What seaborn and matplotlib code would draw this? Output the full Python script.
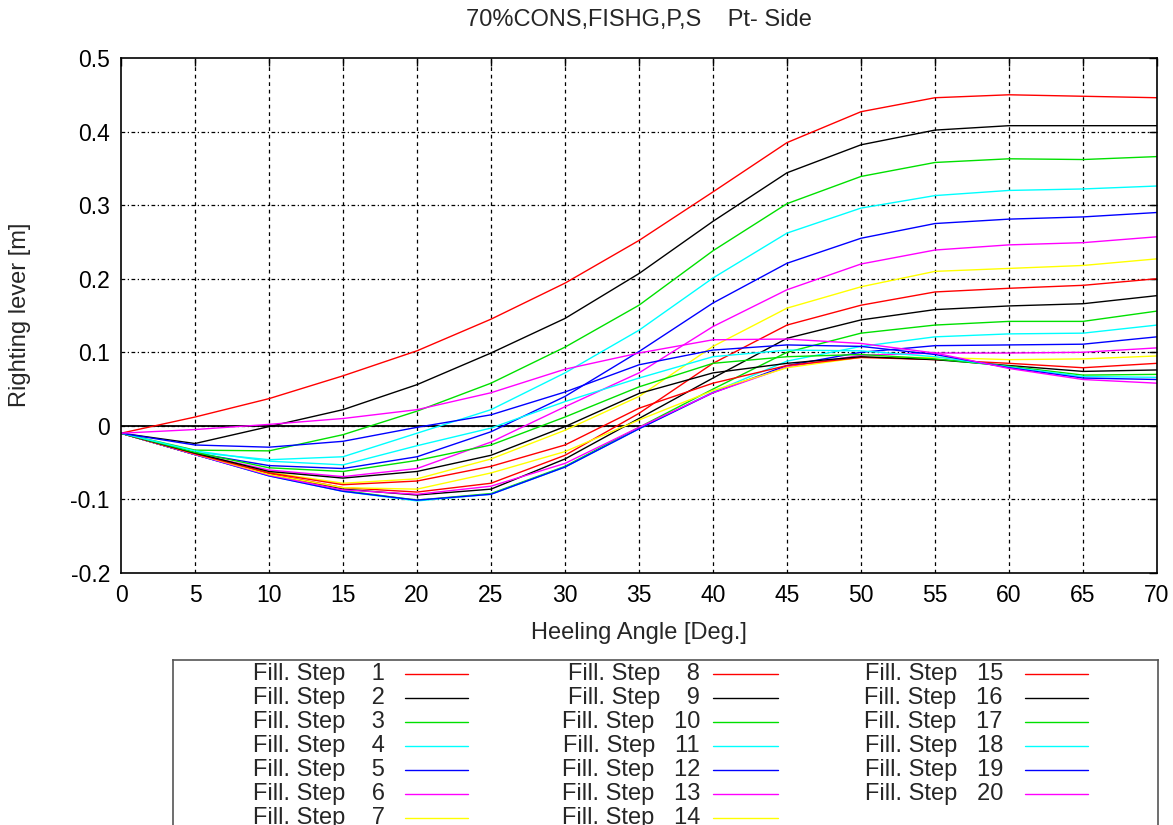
import numpy as np
import pandas as pd
import matplotlib
matplotlib.use("Agg")
import matplotlib.pyplot as plt
import seaborn as sns

# ---------------- data ----------------
angles = [0, 5, 10, 15, 20, 25, 30, 35, 40, 45, 50, 55, 60, 65, 70]

step_1 = [-0.010, 0.012, 0.037, 0.068, 0.102, 0.145, 0.194, 0.252, 0.318, 0.385, 0.427, 0.446, 0.450, 0.448, 0.446]
step_2 = [-0.010, -0.024, -0.001, 0.022, 0.056, 0.099, 0.146, 0.207, 0.278, 0.344, 0.382, 0.402, 0.408, 0.408, 0.408]
step_3 = [-0.010, -0.033, -0.034, -0.012, 0.020, 0.058, 0.107, 0.164, 0.238, 0.302, 0.339, 0.358, 0.363, 0.362, 0.366]
step_4 = [-0.010, -0.036, -0.046, -0.042, -0.010, 0.022, 0.072, 0.130, 0.201, 0.262, 0.296, 0.313, 0.320, 0.322, 0.326]
step_5 = [-0.010, -0.037, -0.054, -0.058, -0.042, -0.008, 0.040, 0.101, 0.167, 0.221, 0.255, 0.275, 0.281, 0.284, 0.290]
step_6 = [-0.010, -0.038, -0.060, -0.069, -0.058, -0.022, 0.026, 0.072, 0.135, 0.185, 0.220, 0.239, 0.246, 0.249, 0.257]
step_7 = [-0.010, -0.038, -0.063, -0.078, -0.072, -0.045, -0.006, 0.040, 0.108, 0.160, 0.189, 0.210, 0.214, 0.218, 0.227]
step_8 = [-0.010, -0.039, -0.065, -0.084, -0.090, -0.078, -0.040, 0.017, 0.085, 0.137, 0.164, 0.182, 0.187, 0.191, 0.200]
step_9 = [-0.010, -0.039, -0.066, -0.086, -0.094, -0.086, -0.045, 0.010, 0.065, 0.119, 0.144, 0.158, 0.163, 0.166, 0.177]
step_10 = [-0.010, -0.039, -0.067, -0.088, -0.101, -0.092, -0.055, -0.002, 0.050, 0.100, 0.126, 0.137, 0.142, 0.142, 0.156]
step_11 = [-0.010, -0.039, -0.068, -0.089, -0.102, -0.093, -0.056, -0.004, 0.046, 0.088, 0.108, 0.121, 0.125, 0.126, 0.137]
step_12 = [-0.010, -0.039, -0.068, -0.089, -0.101, -0.093, -0.056, -0.004, 0.045, 0.082, 0.100, 0.109, 0.110, 0.111, 0.121]
step_13 = [-0.010, -0.039, -0.067, -0.087, -0.093, -0.082, -0.051, -0.002, 0.045, 0.080, 0.096, 0.099, 0.099, 0.100, 0.106]
step_14 = [-0.010, -0.038, -0.066, -0.084, -0.086, -0.064, -0.035, 0.008, 0.048, 0.079, 0.093, 0.093, 0.090, 0.091, 0.095]
step_15 = [-0.010, -0.038, -0.064, -0.080, -0.075, -0.055, -0.026, 0.024, 0.058, 0.082, 0.093, 0.090, 0.085, 0.079, 0.085]
step_16 = [-0.010, -0.037, -0.062, -0.071, -0.062, -0.040, -0.001, 0.044, 0.072, 0.085, 0.094, 0.090, 0.082, 0.074, 0.076]
step_17 = [-0.010, -0.036, -0.057, -0.062, -0.047, -0.026, 0.012, 0.053, 0.085, 0.094, 0.097, 0.091, 0.081, 0.069, 0.070]
step_18 = [-0.010, -0.034, -0.048, -0.053, -0.027, -0.003, 0.033, 0.065, 0.094, 0.103, 0.102, 0.094, 0.080, 0.067, 0.066]
step_19 = [-0.010, -0.026, -0.029, -0.021, -0.002, 0.015, 0.046, 0.083, 0.103, 0.110, 0.108, 0.097, 0.079, 0.065, 0.063]
step_20 = [-0.010, -0.005, 0.002, 0.010, 0.022, 0.045, 0.077, 0.099, 0.117, 0.118, 0.112, 0.099, 0.078, 0.063, 0.058]

steps = [step_1, step_2, step_3, step_4, step_5, step_6, step_7, step_8, step_9, step_10,
         step_11, step_12, step_13, step_14, step_15, step_16, step_17, step_18, step_19, step_20]
step_labels = [str(i) for i in range(1, 21)]

color_cycle = ["#ff0000", "#000000", "#00e000", "#00ffff", "#0000ff", "#ff00ff", "#ffff00"]

x_ticks = [0, 5, 10, 15, 20, 25, 30, 35, 40, 45, 50, 55, 60, 65, 70]
y_ticks = [-0.2, -0.1, 0.0, 0.1, 0.2, 0.3, 0.4, 0.5]
y_tick_labels = ["-0.2", "-0.1", "0", "0.1", "0.2", "0.3", "0.4", "0.5"]

title = "70%CONS,FISHG,P,S    Pt- Side"
x_label = "Heeling Angle [Deg.]"
y_label = "Righting lever [m]"

# ---------------- plot ----------------
sns.set_theme(style="white")
plt.rcParams["font.family"] = ["Liberation Sans", "DejaVu Sans"]

FS = 17
W, H = 1173, 825
fig = plt.figure(figsize=(W / 100, H / 100), dpi=100)
fig.patch.set_facecolor("white")

L, R, T, B = 121, 1157, 58, 573
ax = fig.add_axes([L / W, 1 - B / H, (R - L) / W, (B - T) / H])
ax.set_facecolor("white")

rows = []
for lab, vals in zip(step_labels, steps):
    for a, v in zip(angles, vals):
        rows.append({"angle": a, "gz": v, "step": lab})
df = pd.DataFrame(rows)
palette = [color_cycle[i % 7] for i in range(20)]

ax.axhline(0, color="black", lw=1.3, zorder=1)
sns.lineplot(data=df, x="angle", y="gz", hue="step", palette=palette,
             legend=False, lw=1.0, ax=ax, zorder=3, estimator=None, sort=False)

ax.set_xlim(0, 70)
ax.set_ylim(-0.2, 0.5)
ax.set_xticks(x_ticks)
ax.set_xticklabels([str(t) for t in x_ticks], fontsize=16.5)
ax.set_yticks(y_ticks)
ax.set_yticklabels(y_tick_labels, fontsize=16.5)
ax.tick_params(direction="in", length=6, width=1, top=True, right=True,
               colors="black", pad=8)
ax.set_xlabel("")
ax.set_ylabel("")
for sp in ax.spines.values():
    sp.set_color("black")
    sp.set_linewidth(1.2)
    sp.set_zorder(5)

for xt in x_ticks[1:-1]:
    ax.axvline(xt, color="black", lw=0.9, ls=(0, (3, 3)), zorder=0.5)
for yt in y_ticks[1:-1]:
    ax.axhline(yt, color="black", lw=0.9, ls=(0, (3, 2, 1, 2)), zorder=0.5)

cx = (L + R) / 2 / W
fig.text(cx, 1 - 20 / H, title, ha="center", va="center", fontsize=FS)
fig.text(cx, 1 - 633 / H, x_label, ha="center", va="center", fontsize=FS)
fig.text(20 / W, 1 - 315 / H, y_label, ha="center", va="center", rotation=90, fontsize=FS)

# ---------------- legend (gnuplot style: text then line sample) ----------------
LT, LL, LR = 660, 173, 1158
lax = fig.add_axes([LL / W, -0.03, (LR - LL) / W, (H - LT) / H + 0.03])
lax.set_xlim(LL, LR)
lax.set_ylim(H + 0.03 * H, LT)
lax.set_xticks([])
lax.set_yticks([])
lax.patch.set_alpha(0)
for sp in lax.spines.values():
    sp.set_color("#555555")
    sp.set_linewidth(1.2)

row_y = [674, 698, 722, 746, 770, 794, 818]
text_right = [385, 700, 1003]
line_x = [(405, 468), (713, 778), (1025, 1088)]
for i, lab in enumerate(step_labels):
    col, row = divmod(i, 7)
    y = row_y[row]
    gap = "    " if len(lab) == 1 else "   "
    lax.text(text_right[col], y, "Fill. Step" + gap + lab, ha="right", va="center", fontsize=FS)
    lax.plot(line_x[col], [y, y], color=palette[i], lw=1.0)

fig.savefig("out.png", dpi=100)
